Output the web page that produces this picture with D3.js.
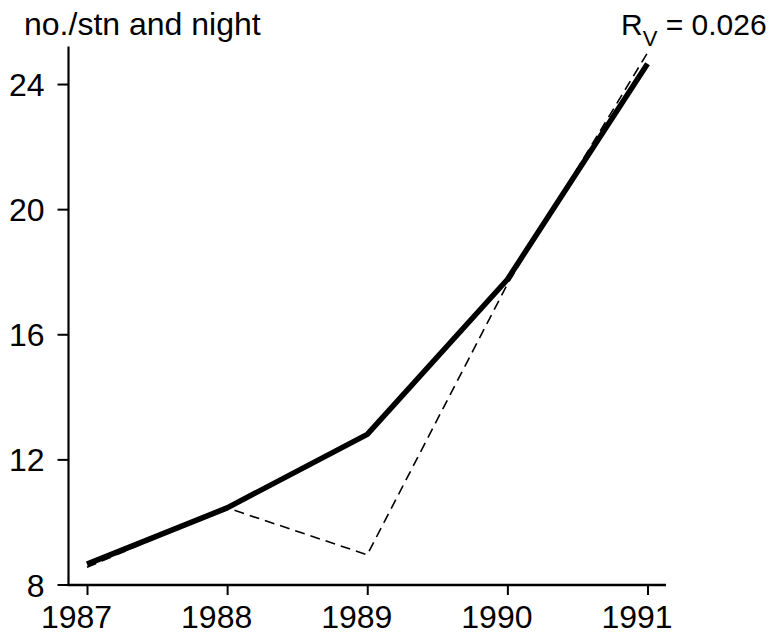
<!DOCTYPE html>
<html><head><meta charset="utf-8">
<script src="https://cdn.jsdelivr.net/npm/d3@7"></script>
<style>body{margin:0;background:#fff}svg{display:block}text{font-family:"Liberation Sans",Arial,sans-serif;fill:#000}</style>
</head><body>
<script>
const years = [1987, 1988, 1989, 1990, 1991];
const observed = [8.65, 10.45, 12.8, 17.75, 24.65];
const predicted = [8.55, 10.45, 8.95, 17.6, 25.0];
const yTicks = [8, 12, 16, 20, 24];
const yTitle = "no./stn and night";
const statLabel = {main: "R", sub: "V", rest: " = 0.026"};

const W = 778, H = 635;
const svg = d3.select("body").append("svg").attr("width", W).attr("height", H);

const x = d3.scaleLinear().domain([1987, 1991]).range([87, 647.5]);
const y = d3.scaleLinear().domain([8, 25.2]).range([584.5, 46.5]);

const fs = 32;
// Y axis
const yAxis = d3.axisLeft(y).tickValues(yTicks).tickSize(11).tickPadding(13).tickSizeOuter(0).tickFormat(d3.format("d"));
const gy = svg.append("g").attr("transform", "translate(68.5,0)").call(yAxis);
gy.select(".domain").remove();
gy.selectAll(".tick line").attr("stroke", "#000").attr("stroke-width", 2);
gy.selectAll(".tick text").style("font-size", fs + "px").attr("dy", "0.36em");
svg.append("line").attr("x1", 68.5).attr("x2", 68.5).attr("y1", y(25.2)).attr("y2", 586)
  .attr("stroke", "#000").attr("stroke-width", 2.2);

// X axis
const xAxis = d3.axisBottom(x).tickValues(years).tickSize(10).tickPadding(10).tickSizeOuter(0).tickFormat(d3.format("d"));
const gx = svg.append("g").attr("transform", "translate(0,585)").call(xAxis);
gx.select(".domain").remove();
gx.selectAll(".tick line").attr("stroke", "#000").attr("stroke-width", 2);
gx.selectAll(".tick text").style("font-size", fs + "px").attr("dx", -11).attr("dy", "0.71em");
svg.append("line").attr("x1", 67.5).attr("x2", 666).attr("y1", 585).attr("y2", 585)
  .attr("stroke", "#000").attr("stroke-width", 2.4);

// lines
const line = d3.line().x((d, i) => x(years[i])).y(d => y(d));
svg.append("path").datum(predicted).attr("d", line).attr("fill", "none")
  .attr("stroke", "#000").attr("stroke-width", 1.6).attr("stroke-dasharray", "10,6");
svg.append("path").datum(observed).attr("d", line).attr("fill", "none")
  .attr("stroke", "#000").attr("stroke-width", 5.5).attr("stroke-linejoin", "round");

// titles
svg.append("text").attr("x", 24).attr("y", 35).style("font-size", "32px").text(yTitle);
const t = svg.append("text").attr("x", 621).attr("y", 35).style("font-size", "30px");
t.append("tspan").text(statLabel.main);
t.append("tspan").attr("dy", 11).style("font-size", "22px").text(statLabel.sub);
t.append("tspan").attr("dy", -11).text(statLabel.rest);
</script>
</body></html>
